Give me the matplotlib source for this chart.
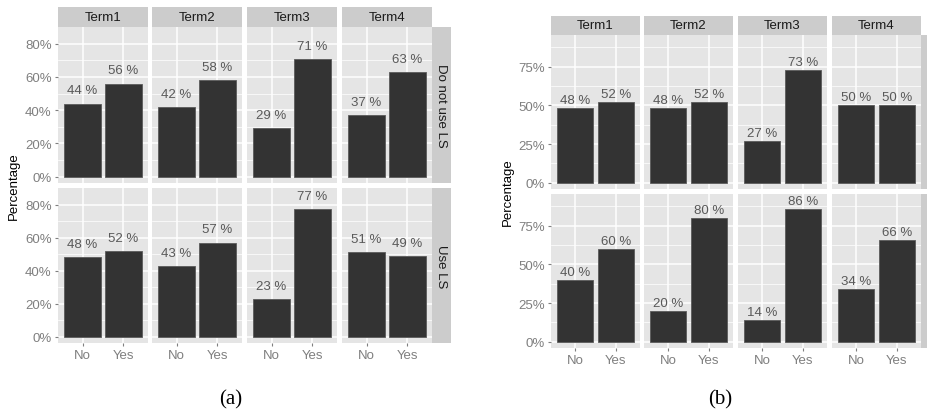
import numpy as np
import matplotlib
matplotlib.use("Agg")
import matplotlib.pyplot as plt
from matplotlib.ticker import FuncFormatter

plt.rcParams['font.family'] = ['Liberation Sans', 'DejaVu Sans']

W, H = 928, 414

terms = ['Term1', 'Term2', 'Term3', 'Term4']
answers = ['No', 'Yes']

# (a) learning-strategy groups
a_rows = ['Do not use LS', 'Use LS']
a_no = [[44, 42, 29, 37], [48, 43, 23, 51]]
a_yes = [[56, 58, 71, 63], [52, 57, 77, 49]]

# (b) reading the terms
b_rows = ['Have not Read Terms', 'Read Terms']
b_no = [[48, 48, 27, 50], [40, 20, 14, 34]]
b_yes = [[52, 52, 73, 50], [60, 80, 86, 66]]

PANEL = '#e5e5e5'
STRIP = '#cccccc'
BAR = '#333333'
TICK = '#7f7f7f'
LABEL = '#595959'


def box(x0, y0, x1, y1):
    return [x0 / W, 1 - y1 / H, (x1 - x0) / W, (y1 - y0) / H]


fig = plt.figure(figsize=(W / 100, H / 100), dpi=100)


def facet(cols, rows, strip_top, strip_right, ylim, major, minor, row_names,
          no_vals, yes_vals, offset):
    for r, (y0, y1) in enumerate(rows):
        for c, (x0, x1) in enumerate(cols):
            ax = fig.add_axes(box(x0, y0, x1, y1))
            ax.set_facecolor(PANEL)
            for s in ax.spines.values():
                s.set_visible(False)
            ax.set_xlim(0.4, 2.6)
            ax.set_ylim(*ylim)
            ax.set_xticks([1, 2])
            ax.set_xticklabels(answers)
            ax.set_yticks(major)
            ax.set_yticks(minor, minor=True)
            ax.yaxis.set_major_formatter(FuncFormatter(lambda v, p: f'{v * 100:g}%'))
            ax.set_axisbelow(True)
            ax.grid(which='major', color='white', lw=1.1)
            ax.grid(which='minor', axis='y', color='white', lw=0.5)
            ax.tick_params(which='minor', length=0)
            ax.tick_params(which='major', color=TICK, length=2.5, width=0.8,
                           labelcolor=TICK, labelsize=9.5, pad=2)
            if c > 0:
                ax.tick_params(axis='y', left=False, labelleft=False)
            if r < len(rows) - 1:
                ax.tick_params(axis='x', bottom=False, labelbottom=False)
            vals = [no_vals[r][c], yes_vals[r][c]]
            ax.bar([1, 2], [v / 100 for v in vals], width=0.9, color=BAR,
                   edgecolor='#5a5a5a', lw=0.6, zorder=3)
            for xi, v in zip([1, 2], vals):
                ax.annotate(f'{v} %', (xi, v / 100), xytext=(0, offset),
                            textcoords='offset points', ha='center', va='center',
                            color=LABEL, fontsize=9.5, zorder=4)
            if r == 0:
                sx = fig.add_axes(box(x0, strip_top, x1, y0))
                sx.set_facecolor(STRIP)
                sx.set_xticks([])
                sx.set_yticks([])
                for s in sx.spines.values():
                    s.set_visible(False)
                sx.text(0.5, 0.5, terms[c], ha='center', va='center',
                        fontsize=9.5, color='#1a1a1a', transform=sx.transAxes)
        rx0, rx1 = strip_right
        sy = fig.add_axes(box(rx0, y0, rx1, y1))
        sy.set_facecolor(STRIP)
        sy.set_xticks([])
        sy.set_yticks([])
        for s in sy.spines.values():
            s.set_visible(False)
        sy.text(0.5, 0.5, row_names[r], ha='center', va='center', rotation=-90,
                fontsize=9.5, color='#1a1a1a', transform=sy.transAxes)


facet(cols=[(58, 148), (152, 242), (247, 337), (342, 432)],
      rows=[(28, 184), (189, 344)], strip_top=8, strip_right=(432, 451),
      ylim=(-0.038, 0.90), major=[0, 0.2, 0.4, 0.6, 0.8],
      minor=[0.1, 0.3, 0.5, 0.7], row_names=a_rows,
      no_vals=a_no, yes_vals=a_yes, offset=9.4)

facet(cols=[(551, 640), (644, 733), (738, 827), (832, 921)],
      rows=[(36, 190), (195, 349)], strip_top=17, strip_right=(921, 940),
      ylim=(-0.041, 0.955), major=[0, 0.25, 0.5, 0.75],
      minor=[0.125, 0.375, 0.625, 0.875], row_names=b_rows,
      no_vals=b_no, yes_vals=b_yes, offset=5.8)

fig.text(14 / W, 1 - 186 / H, 'Percentage', rotation=90, ha='center',
         va='center', fontsize=9.5, color='black')
fig.text(508 / W, 1 - 192 / H, 'Percentage', rotation=90, ha='center',
         va='center', fontsize=9.5, color='black')
fig.text(231 / W, 1 - 400 / H, '(a)', ha='center', va='center', fontsize=15,
         family=['Liberation Serif', 'DejaVu Serif'])
fig.text(720 / W, 1 - 400 / H, '(b)', ha='center', va='center', fontsize=15,
         family=['Liberation Serif', 'DejaVu Serif'])

fig.savefig('out.png', dpi=100)
